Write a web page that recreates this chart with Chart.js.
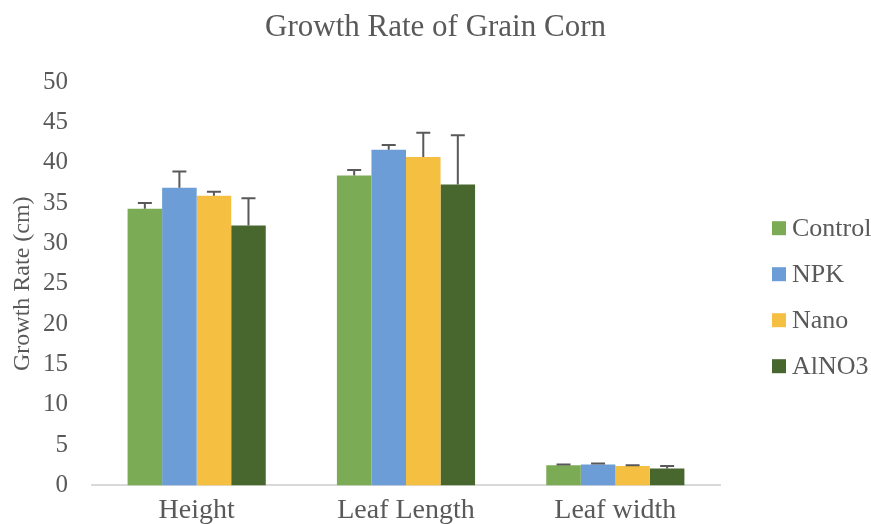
<!DOCTYPE html>
<html>
<head>
<meta charset="utf-8">
<script src="https://cdn.jsdelivr.net/npm/chart.js@4.4.0/dist/chart.umd.min.js"></script>
<style>
  html, body { margin: 0; padding: 0; background: #fff; overflow: hidden; }
  #wrap { width: 871px; height: 535px; }
</style>
</head>
<body>
<div id="wrap"><canvas id="chartCrecimiento"></canvas></div>
<script>
// datos
const categorias = ['Height', 'Leaf Length', 'Leaf width'];
const tratamientos = ['Control', 'NPK', 'Nano', 'AlNO3'];
const control = [34.3, 38.4, 2.5];
const npk = [36.9, 41.6, 2.6];
const nano = [35.9, 40.7, 2.4];
const alno3 = [32.2, 37.3, 2.1];
const errControl = [0.7, 0.7, 0.1];
const errNpk = [2.0, 0.6, 0.1];
const errNano = [0.5, 3.0, 0.1];
const errAlno3 = [3.4, 6.1, 0.3];
const ticksY = [0, 5, 10, 15, 20, 25, 30, 35, 40, 45, 50];
const titulo = 'Growth Rate of Grain Corn';

const colores = ['#7cab56', '#6c9dd6', '#f5bf42', '#48672f'];
const series = [control, npk, nano, alno3];
const errores = [errControl, errNpk, errNano, errAlno3];
const fuente = "'Liberation Serif', 'Times New Roman', serif";
const gris = '#595959';

// barras de error (solo hacia arriba)
const pluginErrores = {
    id: 'barrasError',
    afterDatasetsDraw(chart) {
        const ctx = chart.ctx;
        const y = chart.scales.y;
        ctx.save();
        ctx.strokeStyle = gris;
        ctx.lineWidth = 2;
        chart.data.datasets.forEach((ds, i) => {
            const meta = chart.getDatasetMeta(i);
            meta.data.forEach((bar, j) => {
                const arriba = y.getPixelForValue(ds.data[j] + errores[i][j]);
                ctx.beginPath();
                ctx.moveTo(bar.x, bar.y);
                ctx.lineTo(bar.x, arriba);
                ctx.moveTo(bar.x - 7, arriba);
                ctx.lineTo(bar.x + 7, arriba);
                ctx.stroke();
            });
        });
        ctx.restore();
    }
};

// titulo centrado en todo el lienzo y leyenda a la derecha
const pluginTextos = {
    id: 'tituloYLeyenda',
    afterDraw(chart) {
        const ctx = chart.ctx;
        const area = chart.chartArea;
        ctx.save();
        ctx.fillStyle = gris;
        ctx.font = '31px ' + fuente;
        ctx.textAlign = 'center';
        ctx.textBaseline = 'middle';
        ctx.fillText(titulo, chart.width / 2, 28);

        const x0 = area.right + 52;
        const paso = 46;
        const n = chart.data.datasets.length;
        const centro = (area.top + area.bottom) / 2 + 13.5;
        ctx.font = '26px ' + fuente;
        ctx.textAlign = 'left';
        chart.data.datasets.forEach((ds, i) => {
            const yc = centro + (i - (n - 1) / 2) * paso;
            ctx.fillStyle = ds.backgroundColor;
            ctx.fillRect(x0, yc - 7, 14, 14);
            ctx.fillStyle = gris;
            ctx.fillText(ds.label, x0 + 20, yc + 1);
        });
        ctx.restore();
    }
};

new Chart(document.getElementById('chartCrecimiento'), {
    type: 'bar',
    data: {
        labels: categorias,
        datasets: tratamientos.map((nombre, i) => ({
            label: nombre,
            data: series[i],
            backgroundColor: colores[i],
            borderWidth: 0,
            barPercentage: 1.0,
            categoryPercentage: 0.66
        }))
    },
    options: {
        responsive: true,
        maintainAspectRatio: false,
        animation: false,
        layout: { padding: { left: 8, right: 151, top: 82, bottom: 0 } },
        plugins: {
            title: { display: false },
            legend: { display: false },
            tooltip: { enabled: false }
        },
        scales: {
            x: {
                grid: { display: false, drawTicks: false },
                border: { color: '#d9d9d9', width: 2 },
                ticks: { color: gris, font: { family: fuente, size: 28 }, padding: 8 }
            },
            y: {
                min: 0,
                max: 50,
                afterBuildTicks: scale => { scale.ticks = ticksY.map(v => ({ value: v })); },
                afterFit: scale => { scale.width = 84; },
                grid: { display: false, drawTicks: false },
                border: { display: false },
                ticks: { color: gris, font: { family: fuente, size: 25 }, padding: 24 },
                title: {
                    display: true,
                    text: 'Growth Rate (cm)',
                    color: gris,
                    font: { family: fuente, size: 24 },
                    padding: { top: 0, bottom: 8 }
                }
            }
        }
    },
    plugins: [pluginErrores, pluginTextos]
});
</script>
</body>
</html>
